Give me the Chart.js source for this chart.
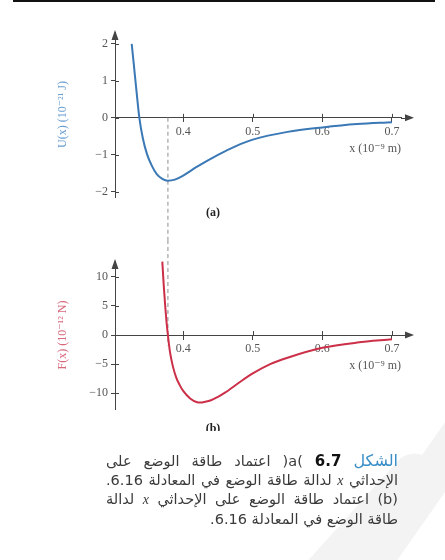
<!DOCTYPE html>
<html>
<head>
<meta charset="utf-8">
<script src="https://cdn.jsdelivr.net/npm/chart.js@4/dist/chart.umd.min.js"></script>
<style>
    body { margin: 0; width: 445px; height: 560px; background: #fff; position: relative; overflow: hidden; }
    .rule { position: absolute; left: 13px; width: 422px; top: 0; height: 2px; background: #111; }
    .mark { position: absolute; background: #f3f3f3; border-radius: 30px; transform-origin: center; }
    canvas { position: absolute; left: 0; }
    .panel { position: absolute; width: 40px; text-align: center; font: bold 12px "Liberation Serif", serif; color: #222; }
    .caption { position: absolute; top: 452px; left: 106px; width: 292px; direction: rtl;
        font-family: "DejaVu Sans", sans-serif; font-size: 14.5px; color: #3a3a3a; line-height: 18.5px; }
    .caption div { text-align: justify; text-align-last: justify; white-space: nowrap; }
    .caption div.last { text-align-last: right; }
    .caption .fig { color: #3a8fc7; font-size: 16px; }
    .caption .num { font-weight: bold; font-size: 15px; color: #111; }
    .caption i { font-family: "Liberation Serif", serif; font-size: 14px; }
</style>
</head>
<body>
<div class="rule"></div>
<div class="mark" style="left:330px;top:430px;width:46px;height:230px;transform:rotate(42deg)"></div>
<div class="mark" style="left:395px;top:400px;width:40px;height:200px;transform:rotate(35deg)"></div>

<canvas id="uChart" width="445" height="240" style="top:0"></canvas>
<canvas id="fChart" width="445" height="220" style="top:240px"></canvas>

<div class="panel" style="left:193px;top:205px">(a)</div>
<div class="panel" style="left:193px;top:421px;height:10px;overflow:hidden">(b)</div>

<div class="caption">
    <div><span class="fig">الشكل</span> <span class="num">6.7</span> <span dir="ltr">)a(</span> اعتماد طاقة الوضع على</div>
    <div>الإحداثي <i>x</i> لدالة طاقة الوضع في المعادلة 6.16.</div>
    <div>(b) اعتماد طاقة الوضع على الإحداثي <i>x</i> لدالة</div>
    <div class="last">طاقة الوضع في المعادلة 6.16.</div>
</div>

<script>
// separation x in 10^-9 m
const xTicks = [0.4, 0.5, 0.6, 0.7];

// potential energy U(x) in 10^-21 J
const uX = [0.326, 0.329, 0.333, 0.337, 0.342, 0.348, 0.355, 0.362, 0.370, 0.378, 0.388, 0.40, 0.42, 0.45, 0.475, 0.50, 0.55, 0.60, 0.65, 0.70];
const uY = [2.0, 1.45, 0.7, 0.0, -0.55, -0.98, -1.3, -1.52, -1.65, -1.70, -1.67, -1.56, -1.32, -1.0, -0.77, -0.59, -0.38, -0.26, -0.17, -0.12];
const uTicks = [-2, -1, 0, 1, 2];

// force F(x) in 10^-12 N
const fX = [0.370, 0.372, 0.374, 0.376, 0.378, 0.381, 0.385, 0.39, 0.395, 0.40, 0.41, 0.42, 0.425, 0.43, 0.44, 0.45, 0.46, 0.48, 0.50, 0.525, 0.55, 0.60, 0.65, 0.70];
const fY = [12.6, 8.6, 5.2, 2.3, 0.0, -2.9, -5.3, -7.3, -8.6, -9.6, -10.9, -11.55, -11.6, -11.5, -11.2, -10.6, -9.9, -8.2, -6.6, -5.0, -3.9, -2.2, -1.3, -0.75];
const fTicks = [-10, -5, 0, 5, 10];

// equilibrium separation: minimum of U, zero of F
const xEq = 0.378;

const axisColor = '#444';
const labelColor = '#555';
const serif = '"Liberation Serif", "DejaVu Serif", serif';

// arrowheads, inner halves of the tick marks and the dashed guide
const axisExtras = {
    id: 'axisExtras',
    beforeDatasetsDraw(chart, args, opts) {
        const { ctx, scales: { x, y } } = chart;
        const px = x.getPixelForValue(xEq);
        const top = opts.guideFrom === null ? 0 : y.getPixelForValue(opts.guideFrom);
        const bottom = opts.guideTo === null ? chart.height : y.getPixelForValue(opts.guideTo);
        ctx.save();
        ctx.strokeStyle = '#b5b5b5';
        ctx.lineWidth = 1.5;
        ctx.setLineDash([4, 3]);
        ctx.beginPath();
        ctx.moveTo(px, top);
        ctx.lineTo(px, bottom);
        ctx.stroke();
        ctx.restore();
    },
    afterDraw(chart) {
        const { ctx, scales: { x, y }, chartArea } = chart;
        const y0 = y.getPixelForValue(0);
        const left = chartArea.left;
        ctx.save();
        ctx.strokeStyle = axisColor;
        ctx.fillStyle = axisColor;
        ctx.lineWidth = 1;
        ctx.beginPath();
        x.ticks.forEach(t => {
            const p = Math.round(x.getPixelForValue(t.value)) + 0.5;
            ctx.moveTo(p, y0 - 4);
            ctx.lineTo(p, y0);
        });
        y.ticks.forEach(t => {
            const p = Math.round(y.getPixelForValue(t.value)) + 0.5;
            ctx.moveTo(left, p);
            ctx.lineTo(left + 4, p);
        });
        ctx.moveTo(chartArea.right, Math.round(y0) + 0.5);
        ctx.lineTo(chartArea.right + 6, Math.round(y0) + 0.5);
        ctx.stroke();

        const ax = chartArea.right + 13;
        ctx.beginPath();
        ctx.moveTo(ax, y0);
        ctx.lineTo(ax - 9, y0 - 3.5);
        ctx.lineTo(ax - 9, y0 + 3.5);
        ctx.closePath();
        ctx.fill();

        ctx.beginPath();
        ctx.moveTo(left, chartArea.top - 2);
        ctx.lineTo(left - 3.5, chartArea.top + 8);
        ctx.lineTo(left + 3.5, chartArea.top + 8);
        ctx.closePath();
        ctx.fill();
        ctx.restore();
    }
};

function makeChart(id, xs, ys, ticks, yMin, yMax, lineColor, titleColor, title, padding, guide) {
    return new Chart(document.getElementById(id), {
        type: 'line',
        data: {
            datasets: [{
                data: xs.map((v, i) => ({ x: v, y: ys[i] })),
                borderColor: lineColor,
                borderWidth: 2,
                pointRadius: 0,
                cubicInterpolationMode: 'monotone',
                fill: false
            }]
        },
        options: {
            responsive: false,
            animation: false,
            layout: { padding },
            plugins: {
                legend: { display: false },
                tooltip: { enabled: false },
                axisExtras: guide
            },
            scales: {
                x: {
                    type: 'linear',
                    min: 0.302,
                    max: 0.713,
                    position: { y: 0 },
                    afterBuildTicks: axis => { axis.ticks = xTicks.map(v => ({ value: v })); },
                    afterFit: axis => { axis.height = 42; },
                    grid: { drawOnChartArea: false, drawTicks: true, tickLength: 4, color: axisColor },
                    border: { color: axisColor, width: 1 },
                    ticks: { color: labelColor, padding: 3, maxRotation: 0, font: { family: serif, size: 12 },
                        callback: v => v.toFixed(1) },
                    title: { display: true, text: 'x (10⁻⁹ m)', align: 'end', color: labelColor,
                        font: { family: serif, size: 12 } }
                },
                y: {
                    type: 'linear',
                    min: yMin,
                    max: yMax,
                    position: 'left',
                    afterBuildTicks: axis => { axis.ticks = ticks.map(v => ({ value: v })); },
                    afterFit: axis => { axis.width = 63; },
                    grid: { drawOnChartArea: false, drawTicks: true, tickLength: 4, color: axisColor },
                    border: { color: axisColor, width: 1 },
                    ticks: { color: labelColor, padding: 3, font: { family: serif, size: 12 },
                        callback: v => String(v).replace('-', '−') },
                    title: { display: true, text: title, color: titleColor,
                        font: { family: serif, size: 12 } }
                }
            }
        },
        plugins: [axisExtras]
    });
}

makeChart('uChart', uX, uY, uTicks, -2.14, 2.32, '#3a78b6', '#6a9fd2', 'U(x) (10⁻²¹ J)',
    { left: 52, right: 44, top: 32, bottom: 43 }, { guideFrom: 0, guideTo: null });

makeChart('fChart', fX, fY, fTicks, -12.7, 12.7, '#cc2f48', '#d8687c', 'F(x) (10⁻¹² N)',
    { left: 52, right: 44, top: 21, bottom: 51 }, { guideFrom: null, guideTo: -1.8 });
</script>
</body>
</html>
